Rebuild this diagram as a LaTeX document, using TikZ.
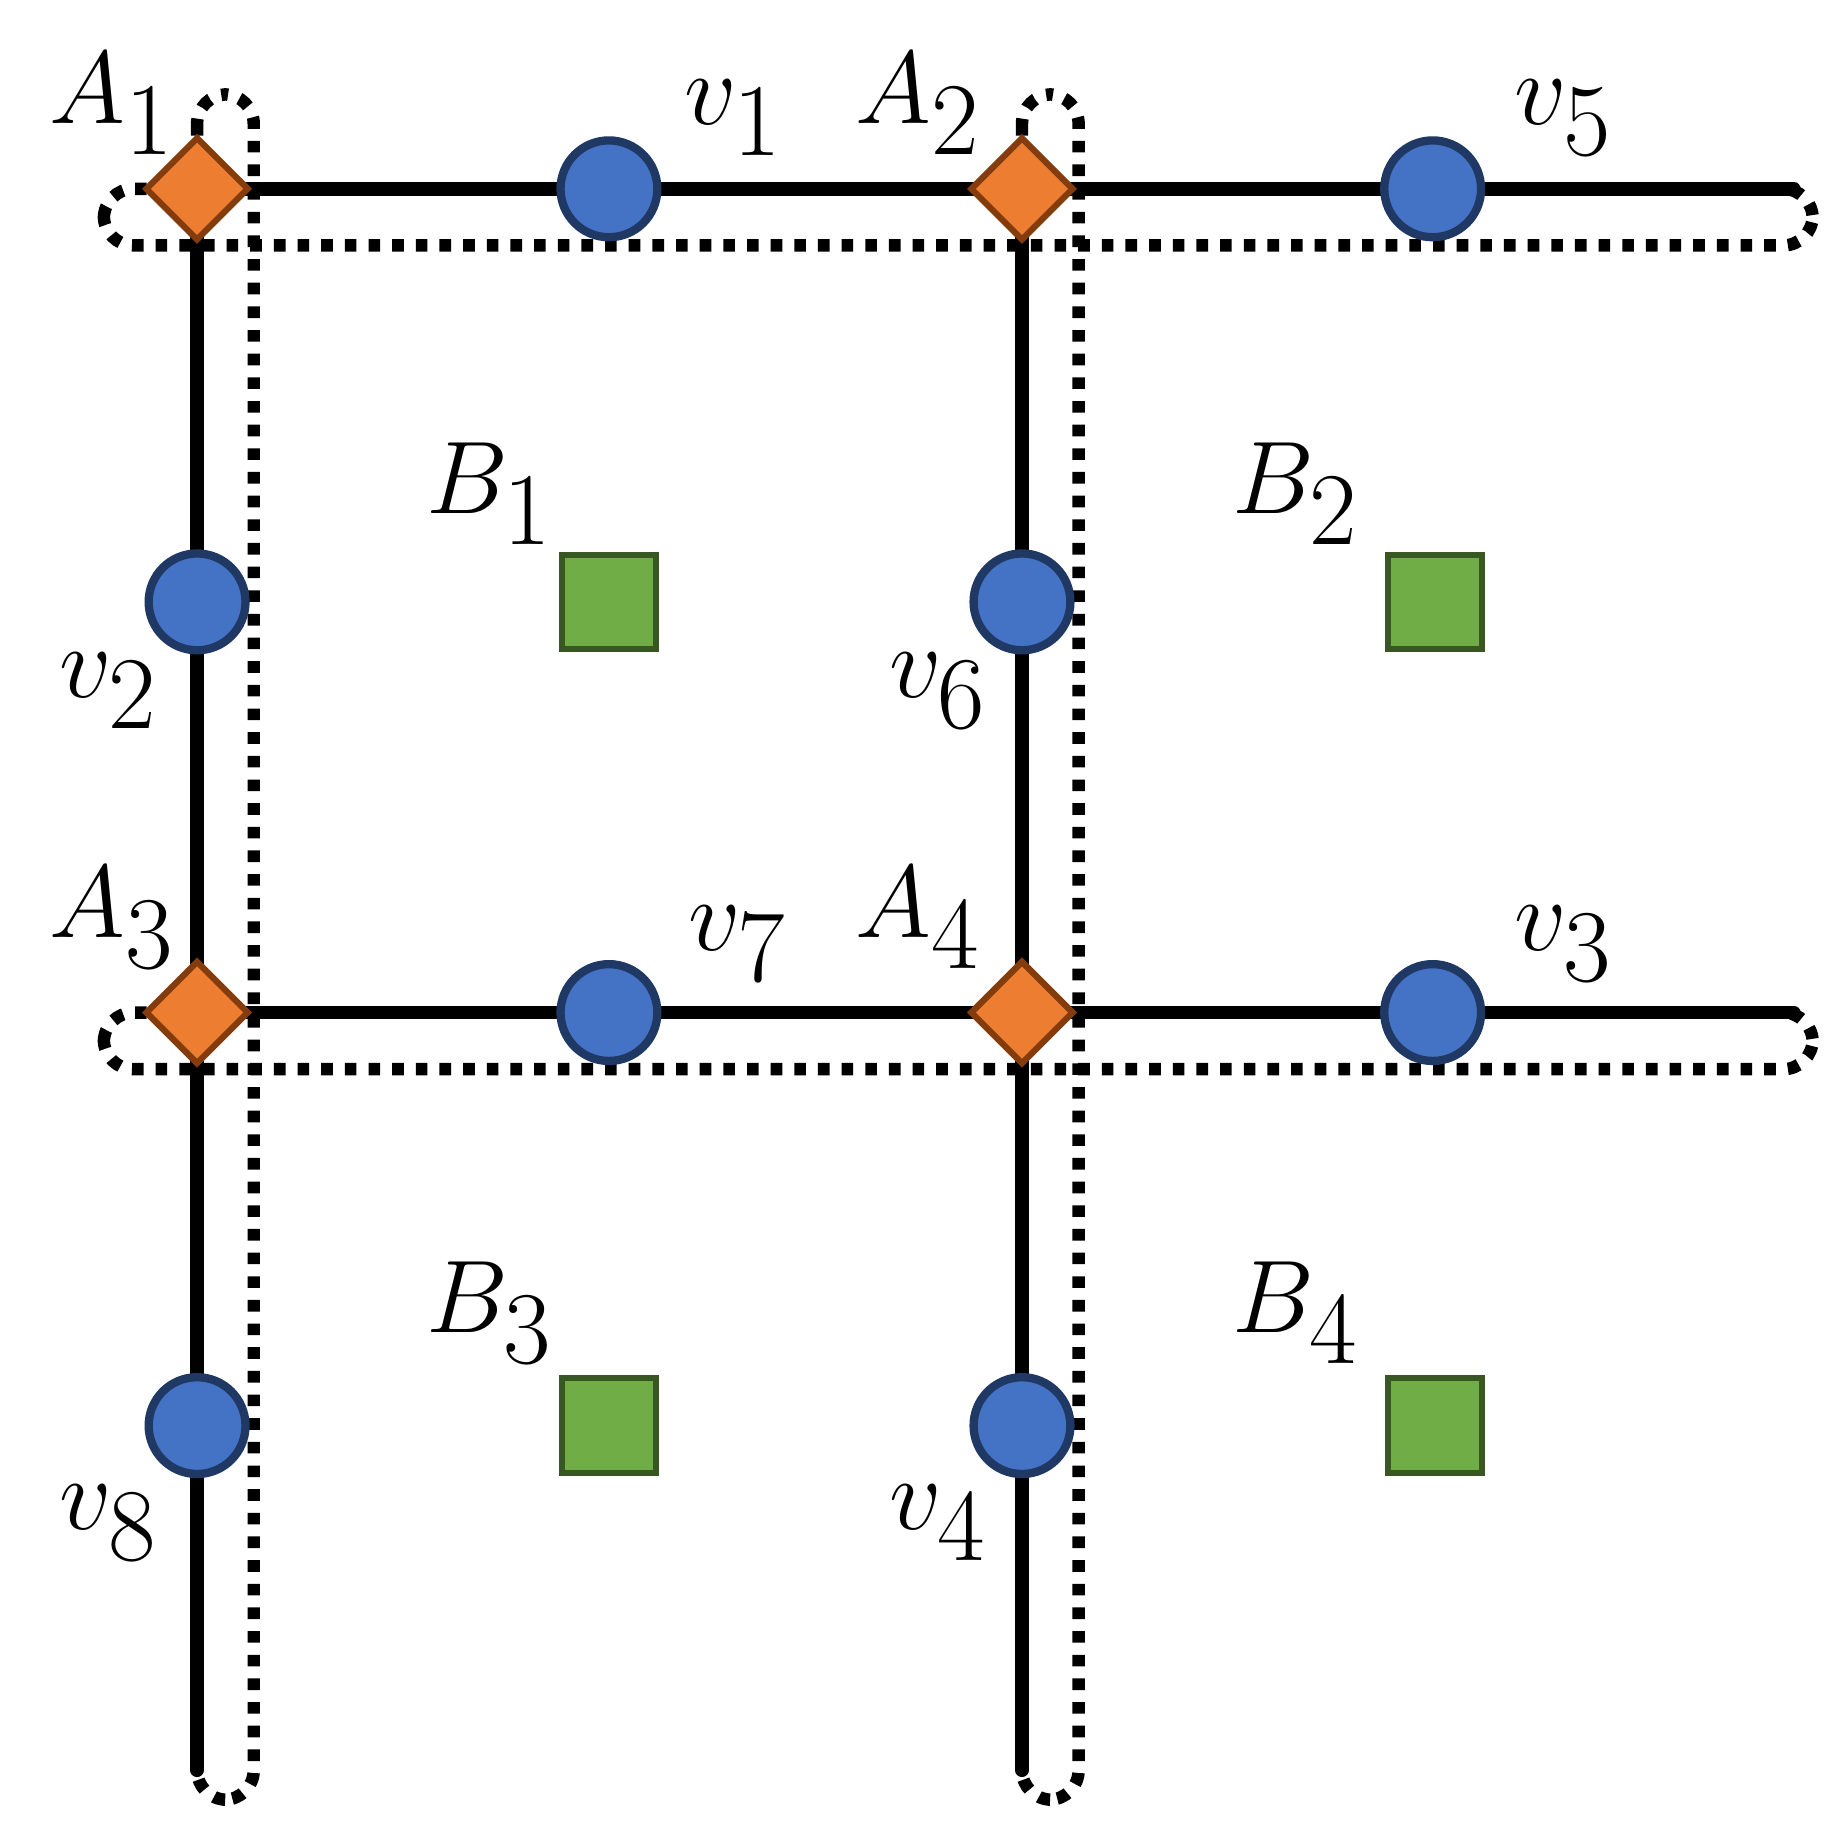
\documentclass[tikz,border=0pt]{standalone}
\usetikzlibrary{shapes.geometric}
\definecolor{vblue}{RGB}{68,114,196}
\definecolor{vborder}{RGB}{31,56,100}
\definecolor{aorange}{RGB}{237,125,49}
\definecolor{aborder}{RGB}{132,60,12}
\definecolor{bgreen}{RGB}{112,173,71}
\definecolor{bborder}{RGB}{56,87,35}
\tikzset{
  vnode/.style={circle,fill=vblue,draw=vborder,line width=2pt,minimum size=0.82cm,inner sep=0pt},
  anode/.style={diamond,fill=aorange,draw=aborder,line width=1.5pt,minimum size=0.88cm,inner sep=0pt},
  bnode/.style={rectangle,fill=bgreen,draw=bborder,line width=1.5pt,minimum size=0.8cm,inner sep=0pt},
  edge/.style={line width=3.3pt,line cap=round},
  group/.style={line width=3pt,dash pattern=on 2.8pt off 2.9pt,rounded corners=0.25cm},
  lbl/.style={font=\fontsize{33}{38}\selectfont,inner sep=0pt}
}
\begin{document}
\begin{tikzpicture}[x=0.01cm,y=-0.01cm]
		\useasboundingbox (0,0) rectangle (1560,1551);
		% end points of the lines
		\coordinate (h1a) at (167,160);
		\coordinate (h1b) at (1520,160);
		\coordinate (h2a) at (167,858);
		\coordinate (h2b) at (1520,858);
		\coordinate (c1a) at (167,160);
		\coordinate (c1b) at (167,1500);
		\coordinate (c2a) at (866,160);
		\coordinate (c2b) at (866,1500);
		% dotted groups
		\draw [group] (88,160) rectangle (1536,208);
		\draw [group] (88,858) rectangle (1536,906);
		\draw [group] (167,80) rectangle (215,1525);
		\draw [group] (866,80) rectangle (914,1525);
		% lines
		\draw [edge] (h1a) -- (h1b);
		\draw [edge] (h2a) -- (h2b);
		\draw [edge] (c1a) -- (c1b);
		\draw [edge] (c2a) -- (c2b);
		% nodes
		\node [anode] (A1) at (167,160) {};
		\node [anode] (A2) at (866,160) {};
		\node [anode] (A3) at (167,858) {};
		\node [anode] (A4) at (866,858) {};
		\node [vnode] (v1) at (516,160) {};
		\node [vnode] (v5) at (1214,160) {};
		\node [vnode] (v2) at (167,510) {};
		\node [vnode] (v6) at (866,510) {};
		\node [vnode] (v7) at (516,858) {};
		\node [vnode] (v3) at (1214,858) {};
		\node [vnode] (v8) at (167,1208) {};
		\node [vnode] (v4) at (866,1208) {};
		\node [bnode] (B1) at (516,510) {};
		\node [bnode] (B2) at (1216,510) {};
		\node [bnode] (B3) at (516,1208) {};
		\node [bnode] (B4) at (1216,1208) {};
		% labels
		\node [lbl] (lA1) at (95,88) {$A_1$};
		\node [lbl] (lA2) at (778,88) {$A_2$};
		\node [lbl] (lA3) at (95,778) {$A_3$};
		\node [lbl] (lA4) at (778,778) {$A_4$};
		\node [lbl] (lv1) at (622,100) {$v_1$};
		\node [lbl] (lv5) at (1325,100) {$v_5$};
		\node [lbl] (lv7) at (625,800) {$v_7$};
		\node [lbl] (lv3) at (1325,800) {$v_3$};
		\node [lbl] (lv2) at (92,585) {$v_2$};
		\node [lbl] (lv6) at (795,585) {$v_6$};
		\node [lbl] (lv8) at (92,1290) {$v_8$};
		\node [lbl] (lv4) at (795,1290) {$v_4$};
		\node [lbl] (lB1) at (415,418) {$B_1$};
		\node [lbl] (lB2) at (1098,418) {$B_2$};
		\node [lbl] (lB3) at (415,1112) {$B_3$};
		\node [lbl] (lB4) at (1098,1112) {$B_4$};
	\end{tikzpicture}
\end{document}
